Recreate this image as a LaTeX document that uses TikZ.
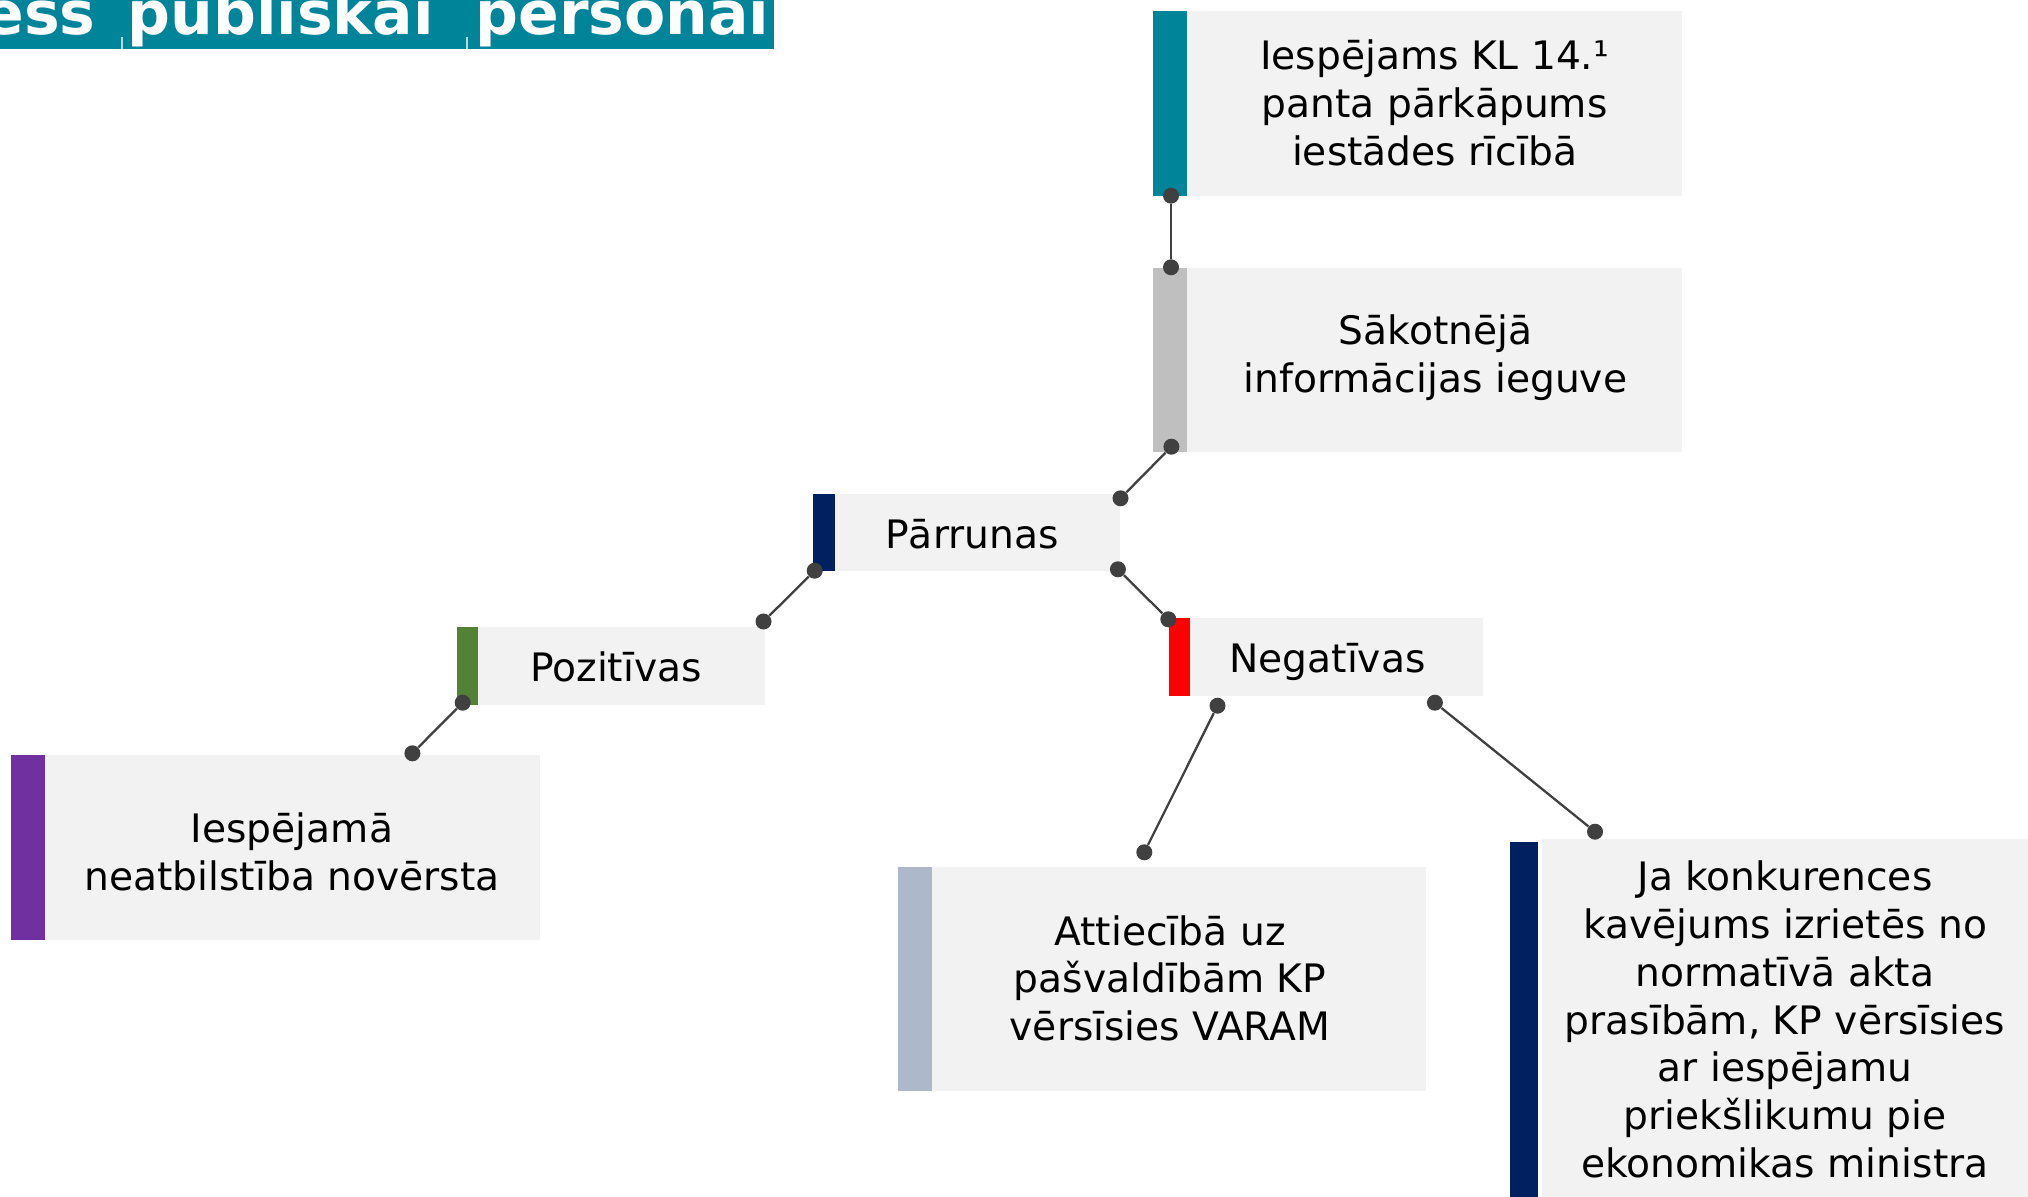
\documentclass[tikz,border=0pt]{standalone}
\usepackage{fontspec}
\setmainfont{DejaVu Sans}
\newcommand\txtlines[1]{\vtop{\halign{\hfil##\hfil\cr#1\crcr}}}
\definecolor{teal}{RGB}{0,132,154}
\definecolor{bargray}{RGB}{191,191,191}
\definecolor{navy}{RGB}{0,32,96}
\definecolor{leaf}{RGB}{83,129,53}
\definecolor{redbar}{RGB}{255,0,0}
\definecolor{purp}{RGB}{112,48,160}
\definecolor{steel}{RGB}{173,185,202}
\definecolor{boxbg}{RGB}{242,242,242}
\definecolor{dotc}{RGB}{64,64,64}
\tikzset{
  box/.style={fill=boxbg, inner sep=0, outer sep=0, anchor=north west},
  bar/.style={inner sep=0, outer sep=0, anchor=north west},
  txt/.style={inner sep=0, anchor=base, font=\fontsize{19.6pt}{23.9pt}\selectfont},
  ttl/.style={inner sep=0, anchor=base west, text=white, font=\fontsize{30pt}{36pt}\bfseries\selectfont},
  dot/.style={circle, fill=dotc, minimum size=8pt, inner sep=0},
  conn/.style={draw=dotc, line width=1.15pt}
}
\begin{document}
\begin{tikzpicture}[x=0.5pt,y=-0.5pt]
\useasboundingbox (0,0) rectangle (2028,1197);
\clip (0,0) rectangle (2028,1197);
% title band
\fill[teal] (0,0) rectangle (774,49);
\node[ttl] (w1) at (-17,35) {ess};
\node[ttl] (w2) at (127,35) {publiskai};
\node[ttl] (w3) at (475,35) {personai};
\fill[white!70!teal] (121,37) rectangle (123,49);
\fill[white!70!teal] (466,37) rectangle (468,49);
% boxes
\node[box, minimum width=247.5pt, minimum height=92.5pt] (b1) at (1187,11) {};
\node[bar, fill=teal, minimum width=17pt, minimum height=92.5pt] (bar1) at (1153,11) {};
\node[box, minimum width=247.5pt, minimum height=92pt] (b2) at (1187,268) {};
\node[bar, fill=bargray, minimum width=17pt, minimum height=92pt] (bar2) at (1153,268) {};
\node[box, minimum width=142.5pt, minimum height=38.5pt] (b3) at (835,494) {};
\node[bar, fill=navy, minimum width=11pt, minimum height=38.5pt] (bar3) at (813,494) {};
\node[box, minimum width=146.5pt, minimum height=39pt] (b4) at (1190,618) {};
\node[bar, fill=redbar, minimum width=10.5pt, minimum height=39pt] (bar4) at (1169,618) {};
\node[box, minimum width=143.5pt, minimum height=39pt] (b5) at (478,627) {};
\node[bar, fill=leaf, minimum width=10.5pt, minimum height=39pt] (bar5) at (457,627) {};
\node[box, minimum width=247.5pt, minimum height=92.5pt] (b6) at (45,755) {};
\node[bar, fill=purp, minimum width=17pt, minimum height=92.5pt] (bar6) at (11,755) {};
\node[box, minimum width=247pt, minimum height=112pt] (b7) at (932,867) {};
\node[bar, fill=steel, minimum width=17pt, minimum height=112pt] (bar7) at (898,867) {};
\node[box, minimum width=249pt, minimum height=185.5pt] (b8) at (1542,839) {};
\node[bar, fill=navy, minimum width=14pt, minimum height=184pt] (bar8) at (1510,842) {};
% texts
\node[txt] (t1) at (1434.6,70) {\txtlines{Iespējams KL 14.¹\cr panta pārkāpums\cr iestādes rīcībā}};
\node[txt] (t2) at (1435.5,345) {\txtlines{Sākotnējā\cr informācijas ieguve}};
\node[txt] (t3) at (972,548.3) {Pārrunas};
\node[txt] (t4) at (1327.4,672.7) {Negatīvas};
\node[txt] (t5) at (616,681.7) {Pozitīvas};
\node[txt] (t6) at (292,842.7) {\txtlines{Iespējamā\cr neatbilstība novērsta}};
\node[txt] (t7) at (1170,945) {\txtlines{Attiecībā uz\cr pašvaldībām KP\cr vērsīsies VARAM}};
\node[txt] (t8) at (1785,890.7) {\txtlines{Ja konkurences\cr kavējums izrietēs no\cr normatīvā akta\cr prasībām, KP vērsīsies\cr ar iespējamu\cr priekšlikumu pie\cr ekonomikas ministra}};
% dots
\node[dot] (d1a) at (1171,195.7) {};
\node[dot] (d1b) at (1171,267.3) {};
\node[dot] (d2a) at (1171.4,446.7) {};
\node[dot] (d2b) at (1120.5,498.3) {};
\node[dot] (d3a) at (814.7,570.7) {};
\node[dot] (d3b) at (763.5,621.5) {};
\node[dot] (d4a) at (1117.9,569.3) {};
\node[dot] (d4b) at (1168.3,619.3) {};
\node[dot] (d5a) at (462.7,702.7) {};
\node[dot] (d5b) at (412.4,753.3) {};
\node[dot] (d6a) at (1217.5,705.7) {};
\node[dot] (d6b) at (1144.3,852.3) {};
\node[dot] (d7a) at (1434.9,702.7) {};
\node[dot] (d7b) at (1595,831.7) {};
% connectors
\draw[conn] (d1a) -- (d1b);
\draw[conn] (d2a) -- (d2b);
\draw[conn] (d3a) -- (d3b);
\draw[conn] (d4a) -- (d4b);
\draw[conn] (d5a) -- (d5b);
\draw[conn] (d6a) -- (d6b);
\draw[conn] (d7a) -- (d7b);
\end{tikzpicture}
\end{document}
